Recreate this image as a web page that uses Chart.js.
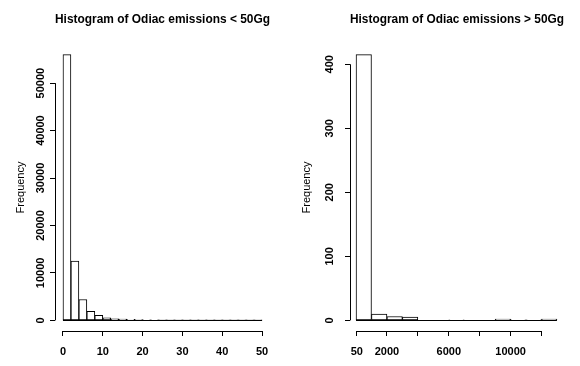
<!DOCTYPE html>
<html>
<head>
<meta charset="utf-8">
<script src="https://cdn.jsdelivr.net/npm/chart.js@4.4.1/dist/chart.umd.min.js"></script>
<style>
    body { margin: 0; background: #fff; }
    .wrap { display: flex; width: 580px; height: 366px; }
    canvas { display: block; }
</style>
</head>
<body>
<div class="wrap">
    <canvas id="lowChart" width="290" height="366"></canvas>
    <canvas id="highChart" width="290" height="366"></canvas>
</div>
<script>
// Emissions < 50Gg : classes de 2
const lowBreaks = [0, 2, 4, 6, 8, 10, 12, 14, 16, 18, 20, 22, 24, 26, 28, 30, 32, 34, 36, 38, 40, 42, 44, 46, 48, 50];
const lowCounts = [56000, 12500, 4400, 1900, 1050, 550, 350, 250, 200, 150, 120, 100, 60, 50, 40, 30, 30, 20, 20, 15, 10, 10, 10, 5, 5];
const lowXTicks = [0, 10, 20, 30, 40, 50];
const lowXLabels = ['0', '10', '20', '30', '40', '50'];
const lowYTicks = [0, 10000, 20000, 30000, 40000, 50000];

// Emissions > 50Gg : classes de 1000
const highBreaks = [0, 1000, 2000, 3000, 4000, 5000, 6000, 7000, 8000, 9000, 10000, 11000, 12000, 13000];
const highCounts = [415, 10, 6, 5, 0, 0, 1, 0, 0, 2, 1, 1, 2];
const highXTicks = [50, 2000, 4000, 6000, 8000, 10000, 12000];
const highXLabels = ['50', '2000', '', '6000', '', '10000', ''];
const highYTicks = [0, 100, 200, 300, 400];

const FONT = "'Liberation Sans', Arial, sans-serif";

// axes façon R : trait seulement entre le premier et le dernier tick, + base des barres
const rAxes = {
    id: 'rAxes',
    afterDatasetsDraw(chart, args, opts) {
        const ctx = chart.ctx;
        const x = chart.scales.x;
        const y = chart.scales.y;
        const area = chart.chartArea;
        ctx.save();
        ctx.strokeStyle = '#000';
        ctx.lineWidth = 1;
        ctx.beginPath();
        const bx = Math.round(area.bottom) + 0.5;
        ctx.moveTo(x.getPixelForValue(x.ticks[0].value), bx);
        ctx.lineTo(x.getPixelForValue(x.ticks[x.ticks.length - 1].value), bx);
        const lx = Math.round(area.left) + 0.5;
        ctx.moveTo(lx, y.getPixelForValue(y.ticks[0].value));
        ctx.lineTo(lx, y.getPixelForValue(y.ticks[y.ticks.length - 1].value));
        const y0 = Math.floor(y.getPixelForValue(0)) + 0.5;
        ctx.moveTo(x.getPixelForValue(opts.breaks[0]), y0);
        ctx.lineTo(x.getPixelForValue(opts.breaks[opts.breaks.length - 1]), y0);
        ctx.stroke();
        ctx.restore();
    }
};

function makeHist(id, title, breaks, counts, xTicks, xLabels, yTicks, o) {
    const points = counts.map((c, i) => ({ x: (breaks[i] + breaks[i + 1]) / 2, y: c }));
    return new Chart(document.getElementById(id), {
        type: 'bar',
        data: {
            datasets: [{
                data: points,
                backgroundColor: '#fff',
                borderColor: '#000',
                borderWidth: 1,
                borderSkipped: false,
                barPercentage: 1,
                categoryPercentage: 1
            }]
        },
        plugins: [rAxes],
        options: {
            responsive: false,
            animation: false,
            devicePixelRatio: 1,
            layout: { padding: { left: 0, right: o.rightPad, top: 0, bottom: 0 } },
            plugins: {
                legend: { display: false },
                tooltip: { enabled: false },
                title: {
                    display: true,
                    text: title,
                    color: '#000',
                    fullSize: false,
                    font: { family: FONT, size: 13, weight: 'bold' },
                    padding: { top: 11.7, bottom: 16.7 }
                },
                rAxes: { breaks: breaks }
            },
            scales: {
                x: {
                    type: 'linear',
                    offset: false,
                    min: o.xMin,
                    max: o.xMax,
                    afterBuildTicks: s => { s.ticks = xTicks.map(v => ({ value: v })); },
                    afterFit: s => { s.height = 35; },
                    border: { display: false },
                    grid: { offset: false, drawOnChartArea: false, drawTicks: true, tickLength: 5, color: '#000' },
                    ticks: {
                        autoSkip: false,
                        maxRotation: 0,
                        padding: 9,
                        color: '#000',
                        font: { family: FONT, size: 11, weight: 'bold' },
                        callback: (v, i) => xLabels[i]
                    }
                },
                y: {
                    min: o.yMin,
                    max: o.yMax,
                    afterBuildTicks: s => { s.ticks = yTicks.map(v => ({ value: v })); },
                    afterFit: s => { s.width = o.yWidth; },
                    border: { display: false },
                    grid: { drawOnChartArea: false, drawTicks: true, tickLength: 5, color: '#000' },
                    title: {
                        display: true,
                        text: 'Frequency',
                        color: '#000',
                        font: { family: FONT, size: 11 },
                        padding: { top: o.titlePad, bottom: 0 }
                    },
                    ticks: {
                        autoSkip: false,
                        minRotation: 90,
                        maxRotation: 90,
                        crossAlign: 'center',
                        padding: o.tickPad,
                        color: '#000',
                        font: { family: FONT, size: 11, weight: 'bold' },
                        callback: v => String(v)
                    }
                }
            }
        }
    });
}

makeHist('lowChart', 'Histogram of Odiac emissions < 50Gg',
    lowBreaks, lowCounts, lowXTicks, lowXLabels, lowYTicks,
    { xMin: -2, xMax: 52, yMin: -2240, yMax: 58240, yWidth: 55, rightPad: 20, tickPad: -5.8, titlePad: 14 });

makeHist('highChart', 'Histogram of Odiac emissions > 50Gg',
    highBreaks, highCounts, highXTicks, highXLabels, highYTicks,
    { xMin: -390, xMax: 13456, yMin: -16.6, yMax: 431.6, yWidth: 60, rightPad: 16, tickPad: 6.1, titlePad: 10.4 });
</script>
</body>
</html>
